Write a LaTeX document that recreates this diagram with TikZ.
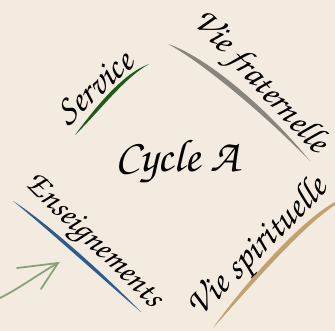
\documentclass[tikz,border=0pt]{standalone}
\usepackage[T1]{fontenc}
\usetikzlibrary{arrows.meta}
\definecolor{bg}{HTML}{F3EBDF}
\definecolor{cgreen}{HTML}{1F5A1A}
\definecolor{cgrey}{HTML}{8A857C}
\definecolor{cblue}{HTML}{2F5A8C}
\definecolor{ctan}{HTML}{C4A070}
\definecolor{carrow}{HTML}{8AA07A}
\newcommand{\scriptfnt}{\fontencoding{T1}\fontfamily{pzc}\fontseries{mb}\fontshape{it}\selectfont}
\tikzset{
  lbl/.style={font=\scriptfnt\fontsize{36}{36}\selectfont, text=black, inner sep=0pt},
  ttl/.style={font=\scriptfnt\fontsize{46}{46}\selectfont, text=black, inner sep=0pt},
}
\begin{document}
\begin{tikzpicture}[x=1pt,y=-1pt]
\fill[bg] (0,0) rectangle (335,331);
\useasboundingbox (0,0) rectangle (335,331);
% strokes
\fill[cgreen] (75,135) .. controls (95,108) and (122,74) .. (149,64)
  .. controls (124,78) and (99,112) .. (75,135) -- cycle;
\fill[cgrey] (168,44) .. controls (202,55) and (262,102) .. (310,161)
  .. controls (258,108) and (198,60) .. (168,44) -- cycle;
\fill[cblue] (13,201) .. controls (46,222) and (102,272) .. (141,312)
  .. controls (99,276) and (44,226) .. (13,201) -- cycle;
\fill[ctan] (213,328) .. controls (238,292) and (298,222) .. (335,202)
  -- (335,205) .. controls (300,228) and (242,296) .. (213,328) -- cycle;
% arrow
\coordinate (a0) at (0,298);
\coordinate (tip) at (58,263);
\coordinate (b1) at (17,268);
\coordinate (b2) at (41,289);
\draw[carrow, line width=1.8pt, line cap=round] (a0) .. controls (20,288) and (40,273) .. (tip);
\draw[carrow, line width=1.8pt, line cap=round] (b1) -- (tip) -- (b2);
% texts
\node[lbl, font=\scriptfnt\fontsize{37}{37}\selectfont, rotate=42] (service) at (95,88) {Service};
\node[lbl, rotate=-47] (frat) at (259,83) {Vie fraternelle};
\node[lbl, font=\scriptfnt\fontsize{34}{34}\selectfont, rotate=-44] (ens) at (92,243) {Enseignements};
\node[lbl, font=\scriptfnt\fontsize{37}{37}\selectfont, rotate=45] (spir) at (259,249) {Vie spirituelle};
\node[ttl] (cycle) at (177,162) {Cycle A};
\end{tikzpicture}
\end{document}
